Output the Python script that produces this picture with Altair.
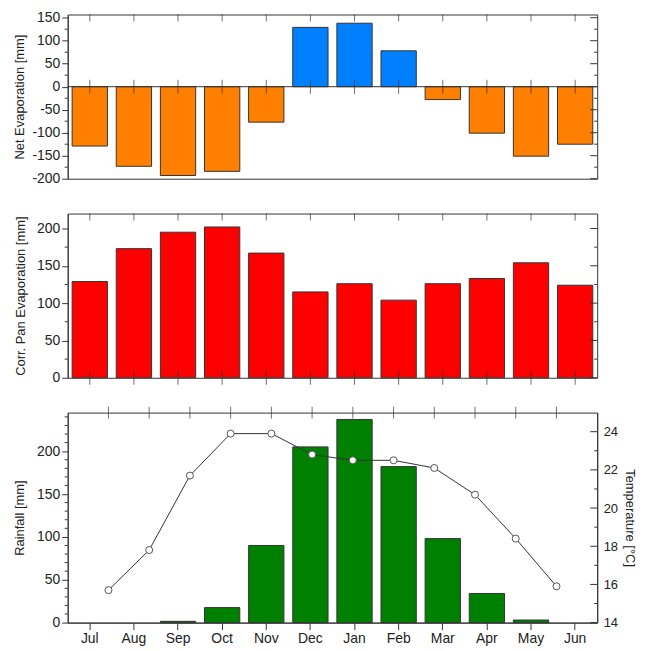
import altair as alt
import pandas as pd

months = ["Jul", "Aug", "Sep", "Oct", "Nov", "Dec", "Jan", "Feb", "Mar", "Apr", "May", "Jun"]
net_evap = [-129, -173, -193, -184, -77, 129, 138, 78, -28, -101, -151, -125]
pan_evap = [129, 173, 195, 202, 167, 115, 126, 104, 126, 133, 154, 124]
rainfall = [0, 0, 1.5, 17.5, 90, 205, 237, 182, 98, 34, 3, 0]
temperature = [15.7, 17.8, 21.7, 23.9, 23.9, 22.8, 22.5, 22.5, 22.1, 20.7, 18.4, 15.9]

W = 532
FONT = "Liberation Sans"
STROKE = "#333333"
TXT = "#222222"

band = alt.Scale(domain=months, paddingInner=0.2, paddingOuter=0.1)


def xband(axis=None):
    return alt.X("month:N", sort=months, scale=band, axis=axis)


def yenc(domain, axis, field="v"):
    return alt.Y(f"{field}:Q", scale=alt.Scale(domain=domain, nice=False, zero=False), axis=axis)


def tick_rules(values, domain, axis, x1, x2):
    df = pd.DataFrame({"v": values})
    return alt.Chart(df).mark_rule(color=STROKE, strokeWidth=1).encode(
        y=yenc(domain, axis), x=alt.value(x1), x2=alt.value(x2)
    )


def left_axis(title, values, tpad):
    return alt.Axis(values=values, title=title, tickSize=6, labelPadding=2, grid=False,
                    labelOverlap=False, labelExpr="'' + datum.value", labelFontSize=14,
                    titlePadding=tpad, domainColor=STROKE, tickColor=STROKE)


def cross_ticks(df, domain, axis):
    return alt.Chart(df).transform_calculate(base="0").mark_tick(
        orient="vertical", size=14, thickness=1, color=STROKE).encode(
        x=xband(), y=yenc(domain, axis, "base"))


# ---------- Panel 1: net evaporation ----------
d1 = [-200, 157]
maj1 = [-200, -150, -100, -50, 0, 50, 100, 150]
min1 = [-175, -125, -75, -25, 25, 75, 125]
ax1 = left_axis("Net Evaporation [mm]", maj1, 5)
df1 = pd.DataFrame({"month": months, "v": net_evap,
                    "sign": ["pos" if v > 0 else "neg" for v in net_evap]})
bars1 = alt.Chart(df1).mark_bar(stroke=STROKE, strokeWidth=1).encode(
    x=xband(),
    y=yenc(d1, ax1),
    color=alt.Color("sign:N", scale=alt.Scale(domain=["neg", "pos"], range=["#FF8000", "#0080FF"]), legend=None),
)
zero1 = alt.Chart(pd.DataFrame({"v": [0]})).mark_rule(color=STROKE, strokeWidth=1).encode(y=yenc(d1, ax1))
top1 = alt.Chart(df1).mark_tick(orient="vertical", size=7, thickness=1, color=STROKE).encode(
    x=xband(), y=alt.value(3.5))
p1 = alt.layer(
    bars1, zero1, cross_ticks(df1, d1, ax1), top1,
    tick_rules(min1, d1, ax1, -3, 0),
    tick_rules(maj1, d1, ax1, W - 7, W),
    tick_rules(min1, d1, ax1, W - 3, W),
).properties(width=W, height=165)

# ---------- Panel 2: corrected pan evaporation ----------
d2 = [0, 220]
maj2 = [0, 50, 100, 150, 200]
min2 = [25, 75, 125, 175]
ax2 = left_axis("Corr. Pan Evaporation [mm]", maj2, 9)
df2 = pd.DataFrame({"month": months, "v": pan_evap})
bars2 = alt.Chart(df2).mark_bar(color="#FF0000", stroke=STROKE, strokeWidth=1).encode(
    x=xband(),
    y=yenc(d2, ax2),
)
top2 = alt.Chart(df2).mark_tick(orient="vertical", size=7, thickness=1, color=STROKE).encode(
    x=xband(), y=alt.value(3.5))
p2 = alt.layer(
    bars2, cross_ticks(df2, d2, ax2), top2,
    tick_rules(min2, d2, ax2, -3, 0),
    tick_rules(maj2, d2, ax2, W - 7, W),
    tick_rules(min2, d2, ax2, W - 3, W),
).properties(width=W, height=165)

# ---------- Panel 3: rainfall + temperature ----------
d3 = [0, 245]
maj3 = [0, 50, 100, 150, 200]
min3 = [v for v in range(10, 250, 10) if v % 50 != 0]
ax3 = left_axis("Rainfall [mm]", maj3, 10)
df3 = pd.DataFrame({"month": months, "v": rainfall})
bars3 = alt.Chart(df3).transform_filter("datum.v > 0").mark_bar(
    color="#008000", stroke=STROKE, strokeWidth=1).encode(
    x=xband(alt.Axis(title=None, tickSize=7, labelPadding=2, labelAngle=0, domainColor=STROKE,
                     tickColor=STROKE, labelFontSize=14)),
    y=yenc(d3, ax3),
)
rain_group = alt.layer(bars3, tick_rules(min3, d3, ax3, -3, 0))

dT = [14, 25]
majT = [14, 16, 18, 20, 22, 24]
minT = [15, 17, 19, 21, 23]
axT = alt.Axis(orient="right", values=majT, ticks=False, labelPadding=6, grid=False,
               labelFontSize=13, title="Temperature [°C]", titlePadding=5, domainColor=STROKE)
dfT = pd.DataFrame({"i": list(range(12)), "v": temperature})
xT = alt.X("i:Q", scale=alt.Scale(domain=[-1, 12], nice=False, zero=False), axis=None)
lineT = alt.Chart(dfT).mark_line(color=STROKE, strokeWidth=1).encode(x=xT, y=yenc(dT, axT))
ptsT = alt.Chart(dfT).mark_point(shape="circle", filled=True, fill="white", stroke="#555555",
                                 strokeWidth=1, size=50, opacity=1).encode(x=xT, y=yenc(dT, axT))
topT = alt.Chart(dfT).mark_tick(orient="vertical", size=12, thickness=1, color=STROKE).encode(
    x=xT, y=alt.value(0))
temp_group = alt.layer(
    lineT, ptsT, topT,
    tick_rules(majT, dT, axT, W - 7, W),
    tick_rules(minT, dT, axT, W - 3, W),
)
p3 = alt.layer(rain_group, temp_group).resolve_scale(x="independent", y="independent").properties(
    width=W, height=211)

chart = alt.vconcat(p1, p2, p3, spacing=35, bounds="flush").properties(
    padding={"left": 5, "top": 0, "right": 3, "bottom": 0},
).configure_view(stroke=STROKE, strokeWidth=1).configure_axis(
    labelFont=FONT, titleFont=FONT, labelFontSize=13, titleFontSize=13,
    titleFontWeight="normal", labelColor=TXT, titleColor=TXT, labelOverlap=False,
)

chart.save("out.html", embed_options={"renderer": "svg", "actions": False})
